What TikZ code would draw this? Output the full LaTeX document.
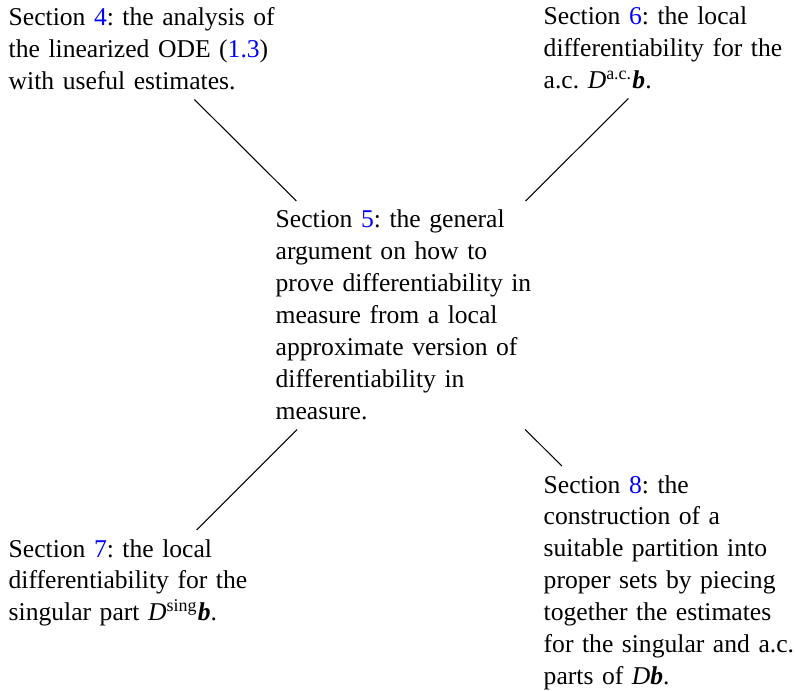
\documentclass[tikz,border=0pt]{standalone}
\usepackage{fontspec}
\setmainfont{Liberation Serif}

\newcommand{\secref}[1]{\textcolor{linkblue}{#1}}
\newcommand{\Db}{\textit{D}}
\newcommand{\bb}{\textbf{\textit{b}}}

\begin{document}
\frenchspacing
\begin{tikzpicture}[x=0.3846pt, y=-0.3846pt, font=\fontsize{9.85}{12.3}\selectfont]

\def\textwd{104pt}
\def\pad{8.5}
\definecolor{linkblue}{RGB}{0,0,255}

\tikzset{secbox/.style={text width=\textwd, align=left, anchor=base west}}

\useasboundingbox (0,0) rectangle (795,691);

% Abschnitte
\node[secbox] (s4) at ({8-\pad}, 26) {Section \secref{4}: the analysis of\\ the linearized ODE (\secref{1.3})\\ with useful estimates.};

\node[secbox] (s6) at ({543-\pad}, 25) {Section \secref{6}: the local\\ differentiability for the\\ a.c. \Db\textsuperscript{a.c.}\bb.};

\node[secbox] (s5) at ({275-\pad}, 228) {Section \secref{5}: the general\\ argument on how to\\ prove differentiability in\\ measure from a local\\ approximate version of\\ differentiability in\\ measure.};

\node[secbox] (s7) at ({8-\pad}, 557) {Section \secref{7}: the local\\ differentiability for the\\ singular part \Db\textsuperscript{sing}\bb.};

\node[secbox] (s8) at ({543-\pad}, 493) {Section \secref{8}: the\\ construction of a\\ suitable partition into\\ proper sets by piecing\\ together the estimates\\ for the singular and a.c.\\ parts of \Db\bb.};

% Verbindungen
\draw (s4) -- (s5);
\draw (s6) -- (s5);
\draw (s7) -- (s5);
\draw (s8) -- (s5);

\end{tikzpicture}
\end{document}
